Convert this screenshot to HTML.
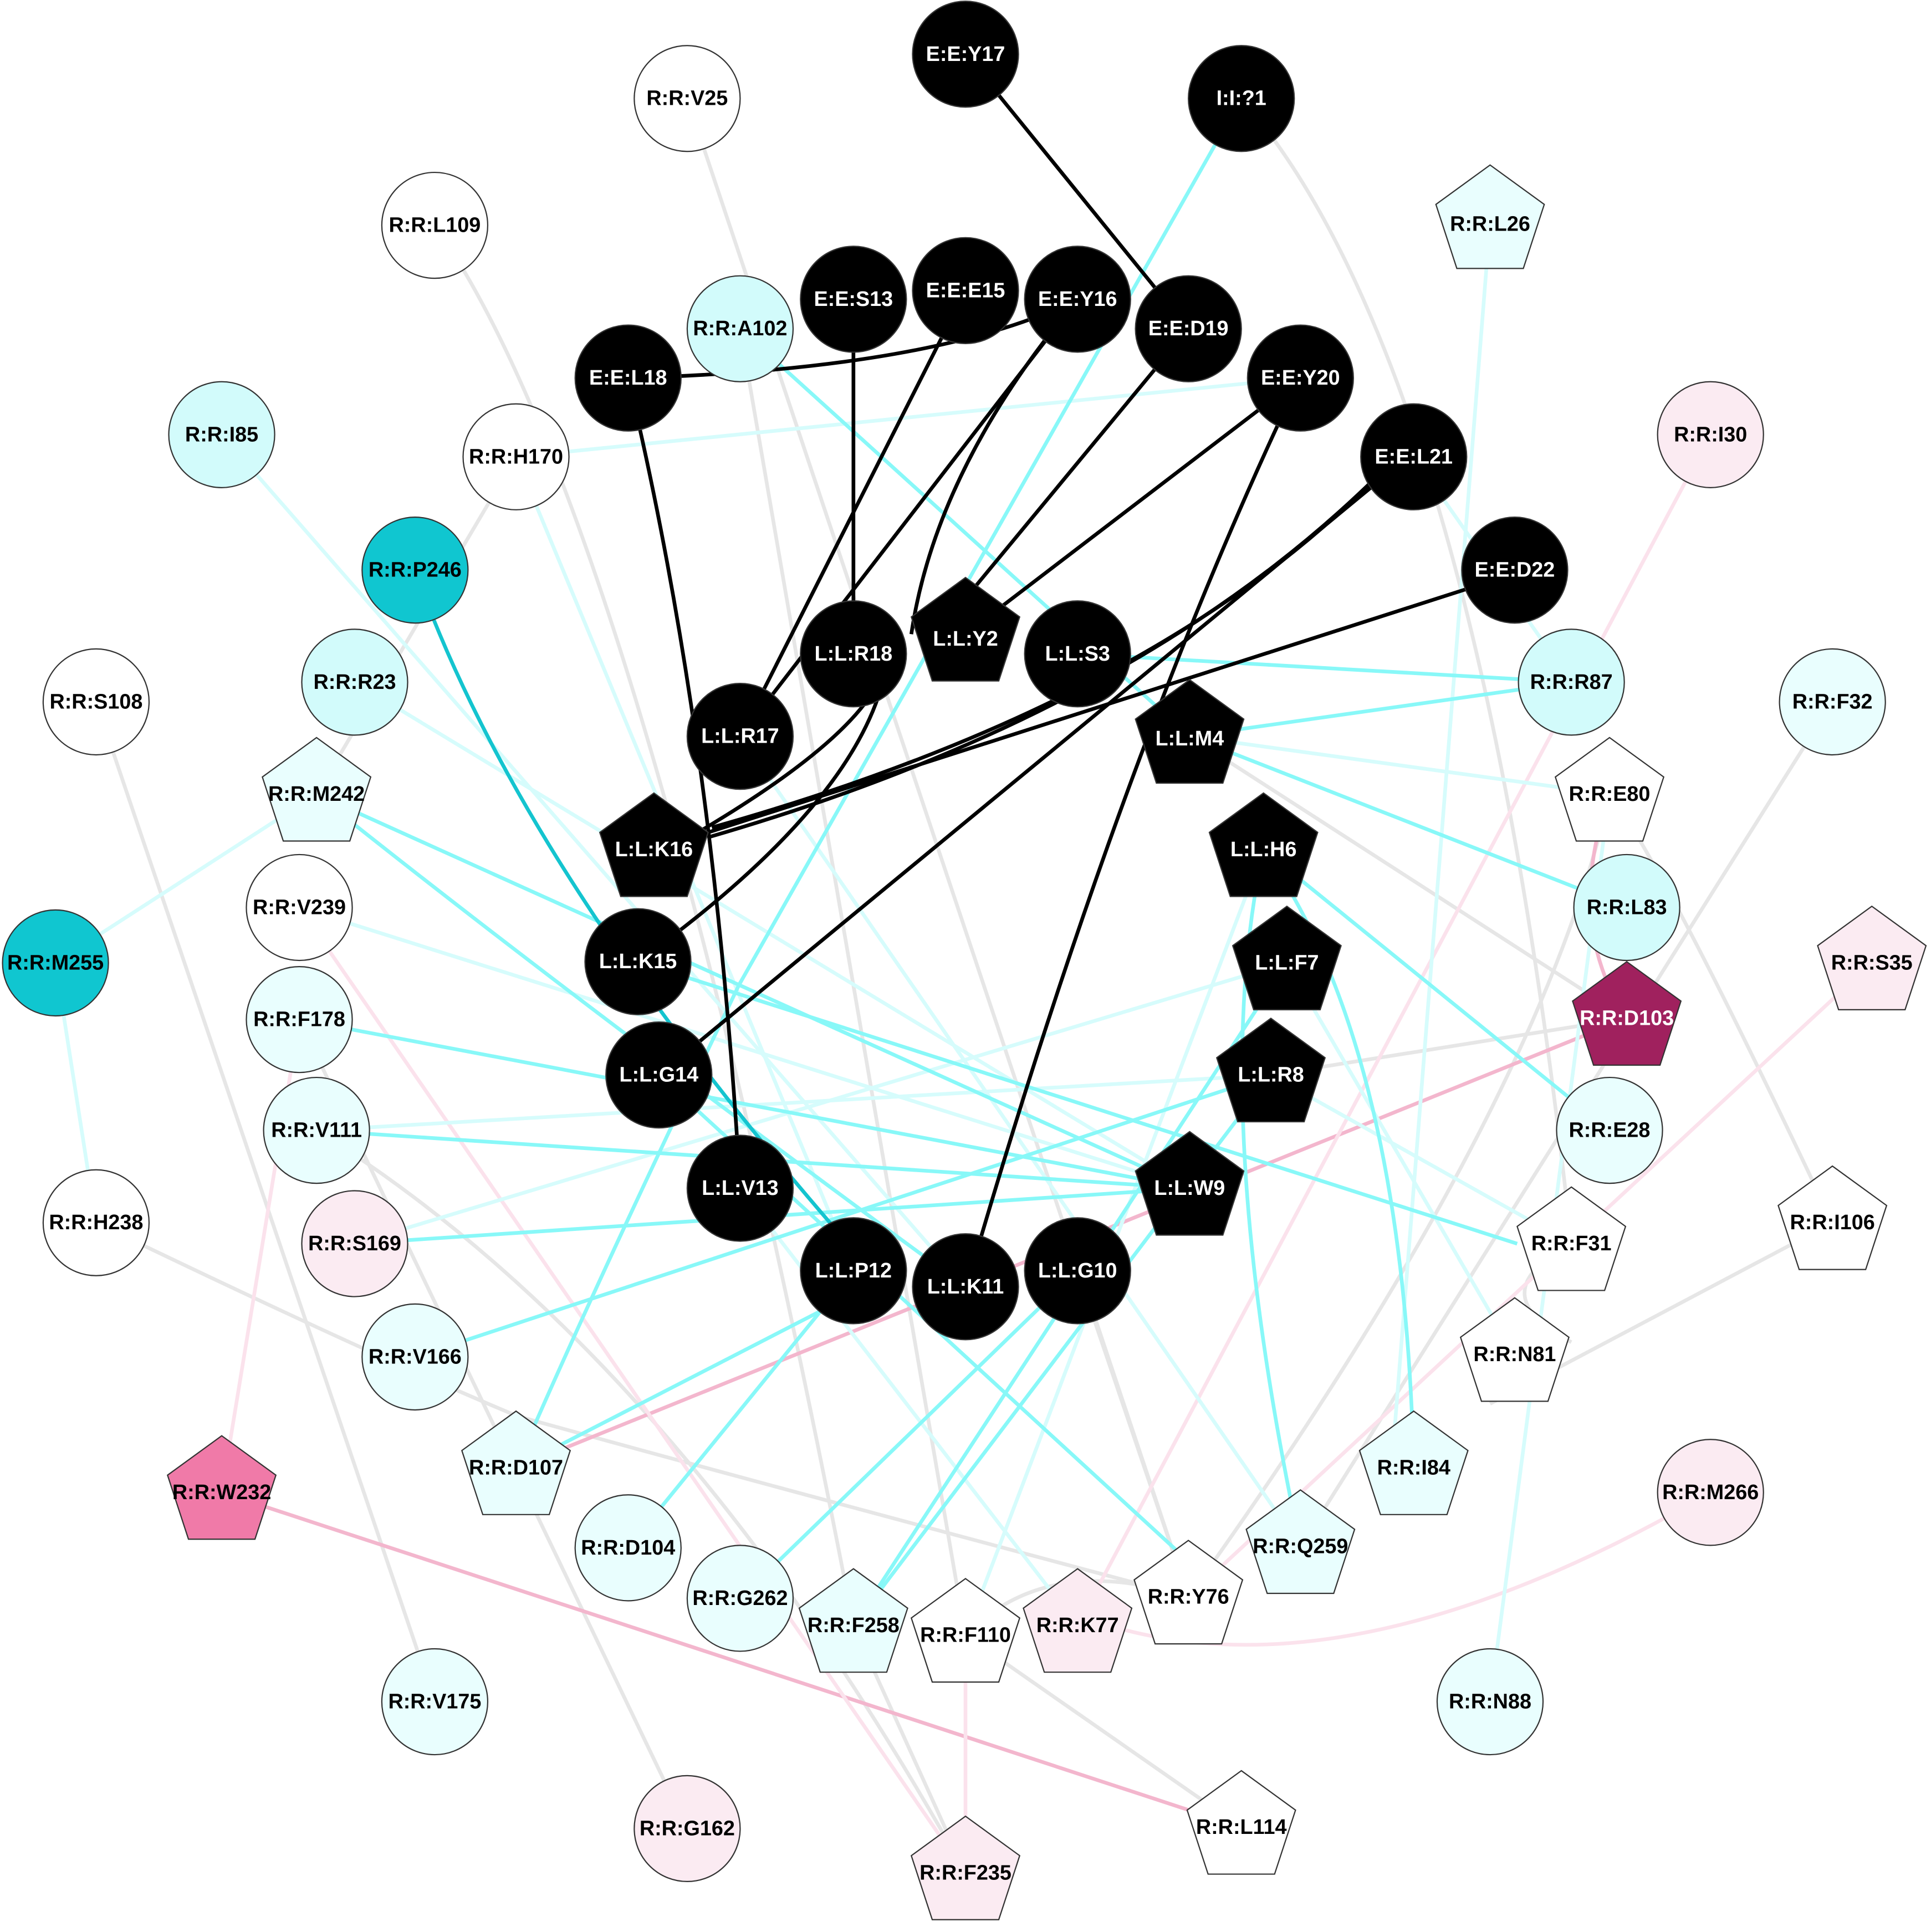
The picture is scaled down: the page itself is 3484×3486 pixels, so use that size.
<!DOCTYPE html>
<html><head><meta charset="utf-8"><style>html,body{margin:0;padding:0;background:#fff}svg{display:block}</style></head><body>
<svg xmlns="http://www.w3.org/2000/svg" width="3484" height="3486" viewBox="0 0 1568 1569">
<defs>
<polygon id="pg" points="0,-46 44,-14 27,38 -27,38 -44,-14"/>
</defs>
<g fill="none" stroke-width="3">
<g stroke="#e6e6e6">
<line x1="558" y1="80" x2="965" y2="1297"/>
<path d="M353 183 Q520 420 693 1320"/>
<line x1="419" y1="371" x2="257" y2="645"/>
<line x1="78" y1="570" x2="353" y2="1382"/>
<path d="M1008 80 Q1200 300 1276 1010"/>
<line x1="601" y1="267" x2="784" y2="1328"/>
<line x1="1488" y1="570" x2="1056" y2="1256"/>
<line x1="1488" y1="993" x2="1210" y2="1140"/>
<path d="M1307 645 Q1250 900 965 1297"/>
<line x1="966" y1="598" x2="1321" y2="827"/>
<line x1="1032" y1="873" x2="1321" y2="827"/>
<path d="M78 993 Q300 1100 420 1150 Q600 1200 965 1297"/>
<path d="M257 918 Q550 1100 784 1521"/>
<line x1="243" y1="828" x2="558" y2="1485"/>
<line x1="784" y1="1328" x2="1008" y2="1484"/>
<line x1="693" y1="1320" x2="784" y2="1521"/>
<line x1="875" y1="1032" x2="965" y2="1297"/>
<path d="M1307 645 Q1350 700 1488 993"/>
<path d="M1276 1010 Q1200 1050 1276 1090"/>
<path d="M784 1328 Q850 1260 965 1297"/>
</g>
<g stroke="#f7c9da">
<line x1="180" y1="1212" x2="1008" y2="1484" stroke="#f3b6cd"/>
<line x1="419" y1="1192" x2="1321" y2="827" stroke="#f3b6cd"/>
<line x1="1389" y1="353" x2="875" y2="1320" stroke="#fbe2ec"/>
<line x1="1520" y1="782" x2="965" y2="1297" stroke="#fbe2ec"/>
<path d="M1389 1212 Q1100 1380 900 1320" stroke="#fbe2ec"/>
<path d="M1307 645 Q1270 750 1321 827" stroke="#f3b6cd"/>
<line x1="243" y1="737" x2="784" y2="1521" stroke="#fbe2ec"/>
<line x1="180" y1="1212" x2="243" y2="828" stroke="#fbe2ec"/>
<line x1="784" y1="1328" x2="784" y2="1521" stroke="#fbe2ec"/>
</g>
<g stroke="#d6fcfc">
<line x1="1056" y1="307" x2="419" y2="371"/>
<line x1="180" y1="353" x2="784" y2="1045"/>
<line x1="45" y1="782" x2="257" y2="645"/>
<line x1="45" y1="782" x2="78" y2="993"/>
<line x1="288" y1="554" x2="966" y2="965"/>
<line x1="243" y1="737" x2="966" y2="965"/>
<line x1="288" y1="1010" x2="1045" y2="782"/>
<line x1="419" y1="371" x2="693" y2="1032"/>
<line x1="1210" y1="180" x2="1130" y2="1192"/>
<line x1="1307" y1="645" x2="1210" y2="1382"/>
<line x1="1148" y1="371" x2="1276" y2="554"/>
<line x1="966" y1="598" x2="1307" y2="645"/>
<line x1="1045" y1="782" x2="1230" y2="1100"/>
<line x1="1032" y1="873" x2="1276" y2="1010"/>
<line x1="784" y1="1328" x2="1026" y2="690"/>
<line x1="601" y1="598" x2="1056" y2="1256"/>
<line x1="257" y1="918" x2="1032" y2="873"/>
<line x1="601" y1="965" x2="875" y2="1320"/>
</g>
<g stroke="#88f8f8">
<path d="M1008 80 Q800 450 600 800 Q480 1050 419 1192"/>
<line x1="601" y1="267" x2="966" y2="598"/>
<line x1="875" y1="531" x2="1276" y2="554"/>
<line x1="966" y1="598" x2="1276" y2="554"/>
<line x1="966" y1="598" x2="1321" y2="737"/>
<line x1="257" y1="645" x2="966" y2="965"/>
<path d="M257 645 Q450 800 784 1045"/>
<line x1="243" y1="828" x2="966" y2="965"/>
<line x1="257" y1="918" x2="966" y2="965"/>
<line x1="288" y1="1010" x2="966" y2="965"/>
<line x1="337" y1="1102" x2="1032" y2="873"/>
<line x1="419" y1="1192" x2="730" y2="1032"/>
<line x1="510" y1="1257" x2="693" y2="1032"/>
<line x1="601" y1="1298" x2="875" y2="1032"/>
<line x1="693" y1="1320" x2="1045" y2="782"/>
<line x1="693" y1="1320" x2="1032" y2="873"/>
<path d="M1026 690 Q980 900 1056 1256"/>
<path d="M1026 690 Q1140 850 1148 1192"/>
<line x1="1026" y1="690" x2="1307" y2="918"/>
<line x1="518" y1="781" x2="1232" y2="1010"/>
<line x1="535" y1="873" x2="1000" y2="1300"/>
</g>
<path d="M337 463 Q420 700 680 1000" stroke="#14c4cf"/>
<g stroke="#000">
<line x1="784" y1="44" x2="965" y2="267"/>
<line x1="693" y1="243" x2="693" y2="531"/>
<line x1="784" y1="236" x2="601" y2="598"/>
<path d="M875 243 Q760 300 510 307"/>
<line x1="875" y1="243" x2="601" y2="598"/>
<path d="M875 243 Q760 380 740 515"/>
<line x1="965" y1="267" x2="760" y2="515"/>
<line x1="1056" y1="307" x2="784" y2="515"/>
<path d="M1040 340 Q910 620 795 1010"/>
<path d="M1115 390 Q920 580 575 680"/>
<path d="M1120 385 Q940 570 578 672"/>
<line x1="1118" y1="392" x2="535" y2="873"/>
<line x1="1192" y1="478" x2="575" y2="676"/>
<path d="M510 307 Q580 600 601 965"/>
<path d="M720 540 Q700 650 518 781"/>
<path d="M710 560 Q680 610 560 680"/>
</g>
</g>
<g stroke="#333" stroke-width="1">
<g fill="#000">
<circle cx="784" cy="44" r="43"/><circle cx="1008" cy="80" r="43"/>
<circle cx="693" cy="243" r="43"/><circle cx="784" cy="236" r="43"/><circle cx="875" cy="243" r="43"/><circle cx="965" cy="267" r="43"/>
<circle cx="510" cy="307" r="43"/><circle cx="1056" cy="307" r="43"/><circle cx="1148" cy="371" r="43"/><circle cx="1230" cy="463" r="43"/>
<circle cx="693" cy="531" r="43"/><circle cx="875" cy="531" r="43"/><circle cx="601" cy="598" r="43"/>
<circle cx="518" cy="781" r="43"/><circle cx="535" cy="873" r="43"/><circle cx="601" cy="965" r="43"/>
<circle cx="693" cy="1032" r="43"/><circle cx="784" cy="1045" r="43"/><circle cx="875" cy="1032" r="43"/>
<use href="#pg" x="784" y="515"/><use href="#pg" x="966" y="598"/><use href="#pg" x="531" y="690"/><use href="#pg" x="1026" y="690"/>
<use href="#pg" x="1045" y="782"/><use href="#pg" x="1032" y="873"/><use href="#pg" x="966" y="965"/>
</g>
<g fill="#fff">
<circle cx="558" cy="80" r="43"/><circle cx="353" cy="183" r="43"/><circle cx="419" cy="371" r="43"/><circle cx="78" cy="570" r="43"/>
<circle cx="243" cy="737" r="43"/><circle cx="78" cy="993" r="43"/>
<use href="#pg" x="1307" y="645"/><use href="#pg" x="1488" y="993"/><use href="#pg" x="1276" y="1010"/><use href="#pg" x="1230" y="1100"/>
<use href="#pg" x="965" y="1297"/><use href="#pg" x="784" y="1328"/><use href="#pg" x="1008" y="1484"/>
</g>
<g fill="#d2fbfb">
<circle cx="601" cy="267" r="43"/><circle cx="180" cy="353" r="43"/><circle cx="288" cy="554" r="43"/><circle cx="1276" cy="554" r="43"/><circle cx="1321" cy="737" r="43"/>
</g>
<g fill="#e9fefe">
<circle cx="1488" cy="570" r="43"/><circle cx="243" cy="828" r="43"/><circle cx="257" cy="918" r="43"/><circle cx="1307" cy="918" r="43"/>
<circle cx="337" cy="1102" r="43"/><circle cx="510" cy="1257" r="43"/><circle cx="601" cy="1298" r="43"/><circle cx="353" cy="1382" r="43"/><circle cx="1210" cy="1382" r="43"/>
<use href="#pg" x="1210" y="180"/><use href="#pg" x="257" y="645"/><use href="#pg" x="419" y="1192"/><use href="#pg" x="1148" y="1192"/>
<use href="#pg" x="1056" y="1256"/><use href="#pg" x="693" y="1320"/>
</g>
<g fill="#fbebf2">
<circle cx="1389" cy="353" r="43"/><circle cx="288" cy="1010" r="43"/><circle cx="1389" cy="1212" r="43"/><circle cx="558" cy="1485" r="43"/>
<use href="#pg" x="1520" y="782"/><use href="#pg" x="875" y="1320"/><use href="#pg" x="784" y="1521"/>
</g>
<circle cx="337" cy="463" r="43" fill="#10c6d0"/><circle cx="45" cy="782" r="43" fill="#10c6d0"/>
<use href="#pg" x="1321" y="827" fill="#a0215e"/>
<use href="#pg" x="180" y="1212" fill="#f07aa8"/>
</g>
<g font-family="Liberation Sans, sans-serif" font-weight="bold" font-size="17" text-anchor="middle" dominant-baseline="central">
<g fill="#fff">
<text x="784" y="44">E:E:Y17</text><text x="1008" y="80">I:I:?1</text>
<text x="693" y="243">E:E:S13</text><text x="784" y="236">E:E:E15</text><text x="875" y="243">E:E:Y16</text><text x="965" y="267">E:E:D19</text>
<text x="510" y="307">E:E:L18</text><text x="1056" y="307">E:E:Y20</text><text x="1148" y="371">E:E:L21</text><text x="1230" y="463">E:E:D22</text>
<text x="693" y="531">L:L:R18</text><text x="784" y="519">L:L:Y2</text><text x="875" y="531">L:L:S3</text><text x="601" y="598">L:L:R17</text>
<text x="966" y="600">L:L:M4</text><text x="531" y="690">L:L:K16</text><text x="1026" y="690">L:L:H6</text><text x="518" y="781">L:L:K15</text>
<text x="1045" y="782">L:L:F7</text><text x="535" y="873">L:L:G14</text><text x="1032" y="873">L:L:R8</text><text x="966" y="965">L:L:W9</text>
<text x="601" y="965">L:L:V13</text><text x="693" y="1032">L:L:P12</text><text x="784" y="1045">L:L:K11</text><text x="875" y="1032">L:L:G10</text>
<text x="1321" y="827">R:R:D103</text>
</g>
<g fill="#000">
<text x="558" y="80">R:R:V25</text><text x="353" y="183">R:R:L109</text><text x="1210" y="182">R:R:L26</text><text x="601" y="267">R:R:A102</text>
<text x="180" y="353">R:R:I85</text><text x="419" y="371">R:R:H170</text><text x="1389" y="353">R:R:I30</text><text x="337" y="463">R:R:P246</text>
<text x="288" y="554">R:R:R23</text><text x="1276" y="554">R:R:R87</text><text x="78" y="570">R:R:S108</text><text x="1488" y="570">R:R:F32</text>
<text x="257" y="645">R:R:M242</text><text x="1307" y="645">R:R:E80</text><text x="243" y="737">R:R:V239</text><text x="1321" y="737">R:R:L83</text>
<text x="45" y="782">R:R:M255</text><text x="1520" y="782">R:R:S35</text><text x="243" y="828">R:R:F178</text>
<text x="257" y="918">R:R:V111</text><text x="1307" y="918">R:R:E28</text><text x="78" y="993">R:R:H238</text><text x="1488" y="993">R:R:I106</text>
<text x="288" y="1010">R:R:S169</text><text x="1276" y="1010">R:R:F31</text><text x="337" y="1102">R:R:V166</text><text x="1230" y="1100">R:R:N81</text>
<text x="419" y="1192">R:R:D107</text><text x="1148" y="1192">R:R:I84</text><text x="180" y="1212">R:R:W232</text><text x="1389" y="1212">R:R:M266</text>
<text x="1056" y="1256">R:R:Q259</text><text x="510" y="1257">R:R:D104</text><text x="601" y="1298">R:R:G262</text><text x="965" y="1297">R:R:Y76</text>
<text x="693" y="1320">R:R:F258</text><text x="784" y="1328">R:R:F110</text><text x="875" y="1320">R:R:K77</text>
<text x="353" y="1382">R:R:V175</text><text x="1210" y="1382">R:R:N88</text><text x="558" y="1485">R:R:G162</text><text x="1008" y="1484">R:R:L114</text><text x="784" y="1521">R:R:F235</text>
</g>
</g>
</svg>
</body></html>
